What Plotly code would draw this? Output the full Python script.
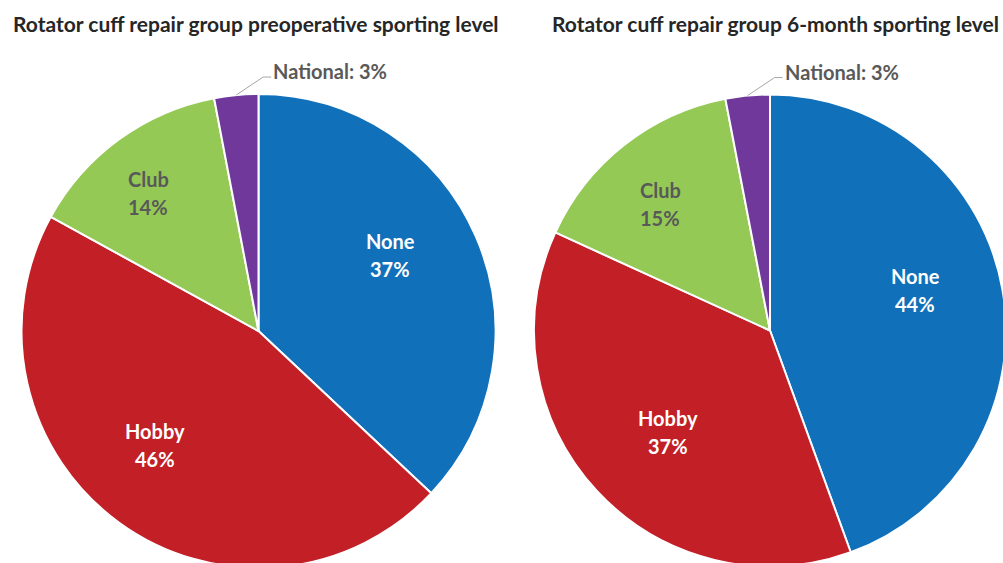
import math
import plotly.graph_objects as go

# Figure canvas (slightly larger than the view so the pies run off the edges)
W, H = 1010, 600

categories = ["None", "Hobby", "Club", "National"]
preop_pct = [37, 46, 14, 3]
month6_pct = [44, 37, 15, 3]
titles = [
    "Rotator cuff repair group preoperative sporting level",
    "Rotator cuff repair group 6-month sporting level",
]

colors = ["#1170BA", "#C21F27", "#94C955", "#70389A"]
label_colors = ["#FFFFFF", "#FFFFFF", "#595959", "#595959"]
FONT = "Lato"

# Pie geometry in pixels: centre x, centre y, radius
pies = [
    dict(cx=258.5, cy=331.0, r=237.0, title_x=256),
    dict(cx=770.0, cy=330.5, r=236.0, title_x=775),
]
# Inside-label anchors (pixel centres of the two-line labels) per slice
label_anchor = [
    {"None": (390, 255), "Hobby": (155, 445), "Club": (148, 193)},
    {"None": (915, 290), "Hobby": (668, 432), "Club": (660, 204)},
]


def px(x):
    return x / W


def py(y):
    return 1 - y / H


fig = go.Figure()
annotations = []
shapes = []

for i, (vals, geo) in enumerate(zip([preop_pct, month6_pct], pies)):
    cx, cy, r = geo["cx"], geo["cy"], geo["r"]
    fig.add_trace(go.Pie(
        labels=categories,
        values=vals,
        sort=False,
        direction="clockwise",
        rotation=0,
        textinfo="none",
        hoverinfo="label+value",
        marker=dict(colors=colors, line=dict(color="#FFFFFF", width=2)),
        domain=dict(x=[px(cx - r), px(cx + r)], y=[py(cy + r), py(cy - r)]),
        showlegend=False,
    ))

    # chart title
    annotations.append(dict(
        text=titles[i], x=px(geo["title_x"]), y=py(23), xref="paper", yref="paper",
        xanchor="center", yanchor="middle", showarrow=False,
        font=dict(family=FONT, size=21, color="#262626", weight="bold"),
    ))

    # labels inside the slices
    for cat, v, lc in zip(categories, vals, label_colors):
        if cat in label_anchor[i]:
            ax, ay = label_anchor[i][cat]
            for dy, txt in ((-14, cat), (14, f"{v}%")):
                annotations.append(dict(
                    text=txt, x=px(ax), y=py(ay + dy), xref="paper", yref="paper",
                    xanchor="center", yanchor="middle", showarrow=False,
                    font=dict(family=FONT, size=20, color=lc, weight="bold"),
                ))

    # outside label for the small slice with a bent leader line
    total = sum(vals)
    k = categories.index("National")
    mid = (sum(vals[:k]) + vals[k] / 2) / total * 2 * math.pi
    ex, ey = cx + r * math.sin(mid), cy - r * math.cos(mid)
    elbow_x, elbow_y = ex + 27, ey - 18
    end_x = elbow_x + 8
    shapes.append(dict(
        type="path", xref="paper", yref="paper",
        path=f"M {px(ex)},{py(ey)} L {px(elbow_x)},{py(elbow_y)} L {px(end_x)},{py(elbow_y)}",
        line=dict(color="#A6A6A6", width=1),
    ))
    annotations.append(dict(
        text=f"National: {vals[k]}%", x=px(end_x), y=py(elbow_y - 6),
        xref="paper", yref="paper", xanchor="left", yanchor="middle", showarrow=False,
        font=dict(family=FONT, size=20, color="#595959", weight="bold"),
    ))

fig.update_layout(
    width=W, height=H,
    margin=dict(l=0, r=0, t=0, b=0),
    paper_bgcolor="#FFFFFF",
    plot_bgcolor="#FFFFFF",
    annotations=annotations,
    shapes=shapes,
)

fig.write_html(
    "out.html",
    post_script="document.body.style.margin='0';"
                "document.body.style.overflow='hidden';"
                "document.documentElement.style.overflow='hidden';",
)
